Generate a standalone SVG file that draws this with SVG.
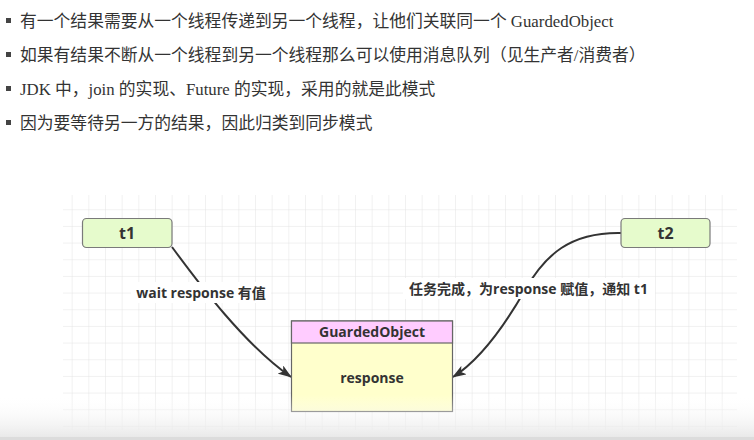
<svg xmlns="http://www.w3.org/2000/svg" width="754" height="440" viewBox="0 0 754 440">
  <style>
    .bullet-text { font-family: "Liberation Serif", "Noto Sans CJK SC", serif; font-size: 16.8px; fill: #333; }
    .bullet { fill: #444; }
    .node-text { font-family: "Open Sans", "Noto Sans CJK SC", sans-serif; font-weight: bold; fill: #333; text-anchor: middle; }
    .edge-label { font-family: "Open Sans", "Noto Sans CJK SC", sans-serif; font-weight: bold; font-size: 14px; fill: #333; text-anchor: middle; }
    .thread { fill: #e6fbcc; stroke: #7a7a7a; stroke-width: 1.2; }
    .edge { fill: none; stroke: #333; stroke-width: 2; marker-end: url(#arrow); }
  </style>
  <defs>
    <pattern id="grid" x="55" y="192.6" width="16.667" height="16.667" patternUnits="userSpaceOnUse">
      <path d="M 16.667 0 L 0 0 0 16.667" fill="none" stroke="#e3e3e3" stroke-width="1"/>
    </pattern>
    <marker id="arrow" viewBox="0 0 14 10" refX="13" refY="5" markerWidth="14" markerHeight="10" markerUnits="userSpaceOnUse" orient="auto">
      <path d="M0,0 L14,5 L0,10 L3.5,5 Z" fill="#333"/>
    </marker>
    <linearGradient id="fade" x1="0" y1="0" x2="0" y2="1">
      <stop offset="0" stop-color="#ffffff" stop-opacity="0"/>
      <stop offset="1" stop-color="#e6e6e6" stop-opacity="1"/>
    </linearGradient>
  </defs>

  <rect width="754" height="440" fill="#ffffff"/>

  <!-- bullet list -->
  <g id="bullets">
    <rect class="bullet" x="6" y="18" width="5" height="5"/>
    <text class="bullet-text" x="20" y="27">有一个结果需要从一个线程传递到另一个线程，让他们关联同一个 GuardedObject</text>
    <rect class="bullet" x="6" y="52" width="5" height="5"/>
    <text class="bullet-text" x="20" y="61">如果有结果不断从一个线程到另一个线程那么可以使用消息队列（见生产者/消费者）</text>
    <rect class="bullet" x="6" y="86" width="5" height="5"/>
    <text class="bullet-text" x="20" y="95">JDK 中，join 的实现、Future 的实现，采用的就是此模式</text>
    <rect class="bullet" x="6" y="120" width="5" height="5"/>
    <text class="bullet-text" x="20" y="129">因为要等待另一方的结果，因此归类到同步模式</text>
  </g>

  <!-- grid background -->
  <rect x="63" y="195" width="674" height="235" fill="url(#grid)"/>

  <!-- connectors -->
  <g id="connectors">
    <path class="edge" d="M172,247 C200,285 245,345 291,377"/>
    <path class="edge" d="M621,233 C570,232 545,255 525,290 S480,360 453,377"/>
    <rect x="131" y="282" width="140" height="21" fill="#ffffff"/>
    <text class="edge-label" x="201" y="297.5">wait response 有值</text>
    <rect x="403" y="278" width="252" height="21" fill="#ffffff"/>
    <text class="edge-label" x="528.5" y="293.5">任务完成，为response 赋值，通知 t1</text>
  </g>

  <!-- nodes -->
  <g id="t1">
    <rect class="thread" x="82.5" y="218.5" width="89.5" height="29" rx="4"/>
    <text class="node-text" x="127" y="239" font-size="16">t1</text>
  </g>
  <g id="t2">
    <rect class="thread" x="621" y="218.5" width="89" height="29" rx="4"/>
    <text class="node-text" x="665.5" y="239" font-size="16">t2</text>
  </g>
  <g id="guardedObject">
    <rect x="291.5" y="321" width="161" height="90.5" fill="#ffffcc" stroke="#666" stroke-width="1.2"/>
    <rect x="291.5" y="321" width="161" height="22" fill="#ffccff" stroke="#666" stroke-width="1.2"/>
    <text class="node-text" x="372" y="337" font-size="14">GuardedObject</text>
    <text class="node-text" x="372" y="383" font-size="14">response</text>
  </g>

  <!-- bottom fade -->
  <rect x="0" y="395" width="754" height="45" fill="url(#fade)"/>
  <rect x="0" y="437" width="754" height="3" fill="#dcdcdc"/>
</svg>
